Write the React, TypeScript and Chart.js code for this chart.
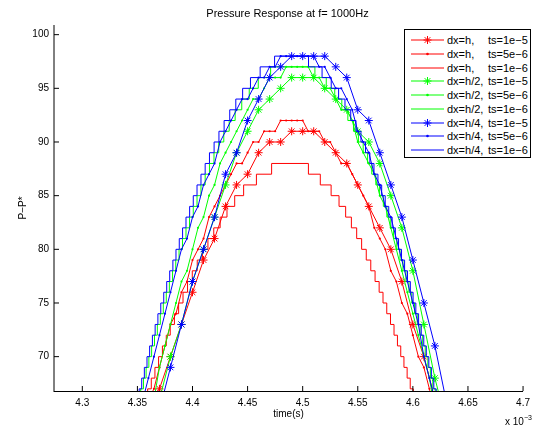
import React, { useEffect, useRef } from "react";
import { Chart, registerables } from "chart.js";

Chart.register(...registerables);

// ---------- axes ----------
const X_MIN = 4.2743;
const X_MAX = 4.7;
const Y_MIN = 66.8;
const Y_MAX = 100.9;
const X_TICKS = [4.3, 4.35, 4.4, 4.45, 4.5, 4.55, 4.6, 4.65, 4.7];
const X_TICK_LABELS = ["4.3", "4.35", "4.4", "4.45", "4.5", "4.55", "4.6", "4.65", "4.7"];
const Y_TICKS = [70, 75, 80, 85, 90, 95, 100];

// ---------- ts = 1e-5 series (sample times in units of 1e-3 s) ----------
const STAR_TIMES = [4.36, 4.37, 4.38, 4.39, 4.40, 4.41, 4.42, 4.43, 4.44, 4.45, 4.46, 4.47, 4.48, 4.49, 4.50, 4.51, 4.52, 4.53, 4.54, 4.55, 4.56, 4.57, 4.58, 4.59, 4.60, 4.61, 4.62, 4.63];
const RED_STAR = [63, 67, 70, 73, 76, 79, 81, 84, 86, 87, 89, 90, 90, 91, 91, 91, 90, 89, 88, 86, 84, 82, 80, 77, 73, 70, 66, 62];
const GREEN_STAR = [62, 66, 70, 73, 77, 80, 83, 86, 89, 91, 93, 94, 95, 96, 96, 96, 95, 94, 93, 91, 90, 88, 85, 82, 78, 73, 68, 64];
const BLUE_STAR = [61, 65, 69, 73, 77, 80, 83, 87, 89, 92, 94, 96, 97, 98, 98, 98, 98, 97, 96, 93, 92, 89, 86, 83, 79, 75, 71, 66];

// ---------- ts = 5e-6 series ----------
const DOT_TIMES = [4.350, 4.355, 4.360, 4.365, 4.370, 4.375, 4.380, 4.385, 4.390, 4.395, 4.400, 4.405, 4.410, 4.415, 4.420, 4.425, 4.430, 4.435, 4.440, 4.445, 4.450, 4.455, 4.460, 4.465, 4.470, 4.475, 4.480, 4.485, 4.490, 4.495, 4.500, 4.505, 4.510, 4.515, 4.520, 4.525, 4.530, 4.535, 4.540, 4.545, 4.550, 4.555, 4.560, 4.565, 4.570, 4.575, 4.580, 4.585, 4.590, 4.595, 4.600, 4.605, 4.610, 4.615, 4.620, 4.625];
const RED_DOT = [62, 64, 66, 67, 69, 71, 73, 74, 76, 77, 79, 80, 81, 83, 84, 85, 86, 87, 88, 88, 89, 90, 90, 91, 91, 91, 92, 92, 92, 92, 92, 91, 91, 91, 90, 90, 89, 88, 88, 87, 86, 85, 84, 82, 81, 80, 78, 77, 75, 74, 72, 70, 69, 67, 65, 63];
const GREEN_DOT = [60, 62, 64, 66, 69, 71, 73, 75, 77, 78, 80, 82, 83, 85, 86, 88, 89, 90, 91, 92, 93, 94, 94, 95, 96, 96, 96, 97, 97, 97, 97, 97, 96, 96, 95, 95, 94, 93, 93, 92, 90, 89, 88, 87, 85, 84, 82, 80, 78, 76, 74, 72, 70, 68, 65, 62];
const BLUE_DOT = [64, 66, 68, 70, 72, 74, 76, 78, 80, 81, 83, 84, 86, 87, 88, 90, 91, 92, 93, 94, 94, 95, 96, 96, 97, 97, 98, 98, 98, 98, 98, 98, 98, 97, 97, 96, 95, 95, 94, 93, 91, 90, 89, 87, 86, 84, 83, 81, 79, 77, 75, 73, 70, 68, 66, 63];

// ---------- ts = 1e-6 series: times where the (integer) level changes ----------
const RED_STEP_T = [4.3562, 4.3593, 4.3626, 4.3659, 4.3692, 4.3727, 4.3762, 4.3798, 4.3836, 4.3874, 4.3914, 4.3955, 4.3998, 4.4043, 4.4090, 4.4140, 4.4193, 4.4251, 4.4313, 4.4383, 4.4464, 4.4580, 4.4718,
  4.5052, 4.5160, 4.5258, 4.5330, 4.5390, 4.5442, 4.5490, 4.5535, 4.5577, 4.5618, 4.5657, 4.5694, 4.5729, 4.5763, 4.5797, 4.5829, 4.5860, 4.5890, 4.5919, 4.5948, 4.5976, 4.6004, 4.6031];
const RED_STEP_V = [66, 67, 68, 69, 70, 71, 72, 73, 74, 75, 76, 77, 78, 79, 80, 81, 82, 83, 84, 85, 86, 87, 88,
  87, 86, 85, 84, 83, 82, 81, 80, 79, 78, 77, 76, 75, 74, 73, 72, 71, 70, 69, 68, 67, 66, 65];
const GREEN_STEP_T = [4.3506, 4.3530, 4.3555, 4.3579, 4.3604, 4.3629, 4.3655, 4.3681, 4.3708, 4.3735, 4.3762, 4.3790, 4.3819, 4.3848, 4.3878, 4.3909, 4.3941, 4.3973, 4.4007, 4.4041, 4.4077, 4.4115, 4.4154, 4.4195, 4.4238, 4.4284, 4.4333, 4.4387, 4.4447, 4.4515, 4.4597, 4.4709,
  4.5111, 4.5214, 4.5291, 4.5355, 4.5410, 4.5461, 4.5506, 4.5549, 4.5589, 4.5627, 4.5664, 4.5698, 4.5732, 4.5764, 4.5795, 4.5825, 4.5854, 4.5883, 4.5910, 4.5937, 4.5964, 4.5990, 4.6015, 4.6040, 4.6065, 4.6089, 4.6112, 4.6136, 4.6159, 4.6181, 4.6203, 4.6225];
const GREEN_STEP_V = [66, 67, 68, 69, 70, 71, 72, 73, 74, 75, 76, 77, 78, 79, 80, 81, 82, 83, 84, 85, 86, 87, 88, 89, 90, 91, 92, 93, 94, 95, 96, 97,
  96, 95, 94, 93, 92, 91, 90, 89, 88, 87, 86, 85, 84, 83, 82, 81, 80, 79, 78, 77, 76, 75, 74, 73, 72, 71, 70, 69, 68, 67, 66, 65];
const BLUE_STEP_T = [4.3492, 4.3516, 4.3539, 4.3563, 4.3587, 4.3611, 4.3636, 4.3661, 4.3686, 4.3712, 4.3739, 4.3766, 4.3793, 4.3822, 4.3850, 4.3880, 4.3910, 4.3941, 4.3974, 4.4007, 4.4041, 4.4077, 4.4115, 4.4154, 4.4196, 4.4240, 4.4287, 4.4338, 4.4393, 4.4455, 4.4526, 4.4614, 4.4745,
  4.5053, 4.5176, 4.5259, 4.5326, 4.5384, 4.5436, 4.5484, 4.5529, 4.5570, 4.5610, 4.5647, 4.5683, 4.5717, 4.5749, 4.5781, 4.5812, 4.5841, 4.5870, 4.5897, 4.5925, 4.5951, 4.5977, 4.6002, 4.6027, 4.6052, 4.6076, 4.6099, 4.6122, 4.6145, 4.6168, 4.6190, 4.6212, 4.6233];
const BLUE_STEP_V = [66, 67, 68, 69, 70, 71, 72, 73, 74, 75, 76, 77, 78, 79, 80, 81, 82, 83, 84, 85, 86, 87, 88, 89, 90, 91, 92, 93, 94, 95, 96, 97, 98,
  97, 96, 95, 94, 93, 92, 91, 90, 89, 88, 87, 86, 85, 84, 83, 82, 81, 80, 79, 78, 77, 76, 75, 74, 73, 72, 71, 70, 69, 68, 67, 66, 65];

// ---------- legend ----------
const LEGEND_DX = ["dx=h,", "dx=h,", "dx=h,", "dx=h/2,", "dx=h/2,", "dx=h/2,", "dx=h/4,", "dx=h/4,", "dx=h/4,"];
const LEGEND_TS = ["ts=1e\u22125", "ts=5e\u22126", "ts=1e\u22126", "ts=1e\u22125", "ts=5e\u22126", "ts=1e\u22126", "ts=1e\u22125", "ts=5e\u22126", "ts=1e\u22126"];
const SERIES_COLORS = ["#ff0000", "#ff0000", "#ff0000", "#00ff00", "#00ff00", "#00ff00", "#0000ff", "#0000ff", "#0000ff"];
const SERIES_MARKERS = ["star", "dot", "none", "star", "dot", "none", "star", "dot", "none"];

const FONT = "'Liberation Sans', Arial, Helvetica, sans-serif";

function pts(xs: number[], ys: number[]) {
  return xs.map((x, i) => ({ x, y: ys[i] }));
}

const axesPlugin = {
  id: "matlabAxes",
  afterDraw(chart: any) {
    const { ctx, chartArea, scales } = chart;
    const { left, right, top, bottom } = chartArea;
    ctx.save();
    ctx.strokeStyle = "#000";
    ctx.lineWidth = 1;
    ctx.beginPath();
    ctx.moveTo(left, top);
    ctx.lineTo(left, bottom + 1);
    ctx.moveTo(left, bottom + 0.5);
    ctx.lineTo(right, bottom + 0.5);
    X_TICKS.forEach((v) => {
      const px = scales.x.getPixelForValue(v);
      ctx.moveTo(px, bottom);
      ctx.lineTo(px, bottom - 5);
    });
    Y_TICKS.forEach((v) => {
      const py = scales.y.getPixelForValue(v);
      ctx.moveTo(left, py);
      ctx.lineTo(left + 5, py);
    });
    ctx.stroke();
    ctx.restore();
  },
};

function LegendMarker({ color, marker }: { color: string; marker: string }) {
  const cx = 16.5;
  const cy = 7;
  const r = 4;
  const d = r * Math.SQRT1_2;
  return (
    <svg width={34} height={14} style={{ position: "absolute", left: 6, top: 0 }}>
      <line x1={0} y1={cy} x2={33} y2={cy} stroke={color} strokeWidth={1} />
      {marker === "star" && (
        <g stroke={color} strokeWidth={1}>
          <line x1={cx - r} y1={cy} x2={cx + r} y2={cy} />
          <line x1={cx} y1={cy - r} x2={cx} y2={cy + r} />
          <line x1={cx - d} y1={cy - d} x2={cx + d} y2={cy + d} />
          <line x1={cx - d} y1={cy + d} x2={cx + d} y2={cy - d} />
        </g>
      )}
      {marker === "dot" && <circle cx={cx} cy={cy} r={1.3} fill={color} />}
    </svg>
  );
}

export default function App() {
  const canvasRef = useRef<HTMLCanvasElement | null>(null);

  useEffect(() => {
    document.body.style.margin = "0";
    const canvas = canvasRef.current;
    if (!canvas) return;

    const series = [
      pts(STAR_TIMES, RED_STAR),
      pts(DOT_TIMES, RED_DOT),
      pts(RED_STEP_T, RED_STEP_V),
      pts(STAR_TIMES, GREEN_STAR),
      pts(DOT_TIMES, GREEN_DOT),
      pts(GREEN_STEP_T, GREEN_STEP_V),
      pts(STAR_TIMES, BLUE_STAR),
      pts(DOT_TIMES, BLUE_DOT),
      pts(BLUE_STEP_T, BLUE_STEP_V),
    ];

    const datasets = series.map((data, i) => {
      const marker = SERIES_MARKERS[i];
      const color = SERIES_COLORS[i];
      return {
        label: LEGEND_DX[i] + " " + LEGEND_TS[i],
        data,
        borderColor: color,
        backgroundColor: color,
        borderWidth: 1,
        tension: 0,
        fill: false,
        stepped: marker === "none" ? ("before" as const) : false,
        pointStyle: marker === "star" ? "star" : "circle",
        pointRadius: marker === "star" ? 4 : marker === "dot" ? 1.1 : 0,
        pointBorderWidth: marker === "star" ? 1 : 0,
        pointBorderColor: color,
        pointBackgroundColor: color,
        pointHoverRadius: 0,
        order: 9 - i,
      };
    });

    const chart = new Chart(canvas, {
      type: "line",
      data: { datasets },
      options: {
        animation: false,
        responsive: false,
        maintainAspectRatio: false,
        devicePixelRatio: 1,
        events: [],
        layout: { padding: { left: 0, right: 7, top: 25, bottom: 0 } },
        plugins: {
          legend: { display: false },
          title: { display: false },
          tooltip: { enabled: false },
        },
        scales: {
          x: {
            type: "linear",
            min: X_MIN,
            max: X_MAX,
            grid: { display: false, drawTicks: false },
            border: { display: false },
            afterBuildTicks: (scale: any) => {
              scale.ticks = X_TICKS.map((v) => ({ value: v }));
            },
            afterFit: (scale: any) => {
              scale.height = 34;
            },
            ticks: {
              autoSkip: false,
              maxRotation: 0,
              minRotation: 0,
              padding: 6,
              color: "#000",
              font: { family: FONT, size: 10 },
              callback: (value: any) => {
                const idx = X_TICKS.findIndex((t) => Math.abs(t - Number(value)) < 1e-9);
                return idx >= 0 ? X_TICK_LABELS[idx] : "";
              },
            },
            title: {
              display: true,
              text: "time(s)",
              color: "#000",
              font: { family: FONT, size: 10 },
              padding: { top: 0, bottom: 5 },
            },
          },
          y: {
            type: "linear",
            min: Y_MIN,
            max: Y_MAX,
            grid: { display: false, drawTicks: false },
            border: { display: false },
            afterBuildTicks: (scale: any) => {
              scale.ticks = Y_TICKS.map((v) => ({ value: v }));
            },
            afterFit: (scale: any) => {
              scale.width = 54;
            },
            ticks: {
              padding: 5,
              color: "#000",
              font: { family: FONT, size: 10 },
              callback: (value: any) => String(value),
            },
            title: {
              display: true,
              text: "P\u2212P*",
              color: "#000",
              font: { family: FONT, size: 10 },
              padding: { top: 17, bottom: 0 },
            },
          },
        },
      } as any,
      plugins: [axesPlugin],
    });

    return () => {
      chart.destroy();
    };
  }, []);

  return (
    <div style={{ position: "absolute", left: 0, top: 0, width: 536, height: 425, background: "#fff", fontFamily: FONT }}>
      <canvas ref={canvasRef} width={536} height={425} style={{ position: "absolute", left: 0, top: 0, width: 536, height: 425 }} />
      <div style={{ position: "absolute", left: 0, width: 575, top: 6, textAlign: "center", fontSize: 11, lineHeight: "14px", color: "#000" }}>
        Pressure Response at f= 1000Hz
      </div>
      <div style={{ position: "absolute", left: 505, top: 413, fontSize: 10, lineHeight: "12px", color: "#000", whiteSpace: "nowrap" }}>
        x 10<sup style={{ fontSize: 7, position: "relative", top: -1 }}>{"\u22123"}</sup>
      </div>
      <div style={{ position: "absolute", left: 404, top: 29, width: 125, height: 127, border: "1px solid #000", background: "#fff" }}>
        {LEGEND_DX.map((dx, i) => (
          <div key={i} style={{ position: "absolute", left: 0, top: 3 + i * 13.75, width: 125, height: 14 }}>
            <LegendMarker color={SERIES_COLORS[i]} marker={SERIES_MARKERS[i]} />
            <span style={{ position: "absolute", left: 42, top: 0, fontSize: 11, lineHeight: "14px", whiteSpace: "nowrap", color: "#000" }}>{dx}</span>
            <span style={{ position: "absolute", left: 83, top: 0, fontSize: 11, lineHeight: "14px", whiteSpace: "nowrap", color: "#000" }}>{LEGEND_TS[i]}</span>
          </div>
        ))}
      </div>
    </div>
  );
}
